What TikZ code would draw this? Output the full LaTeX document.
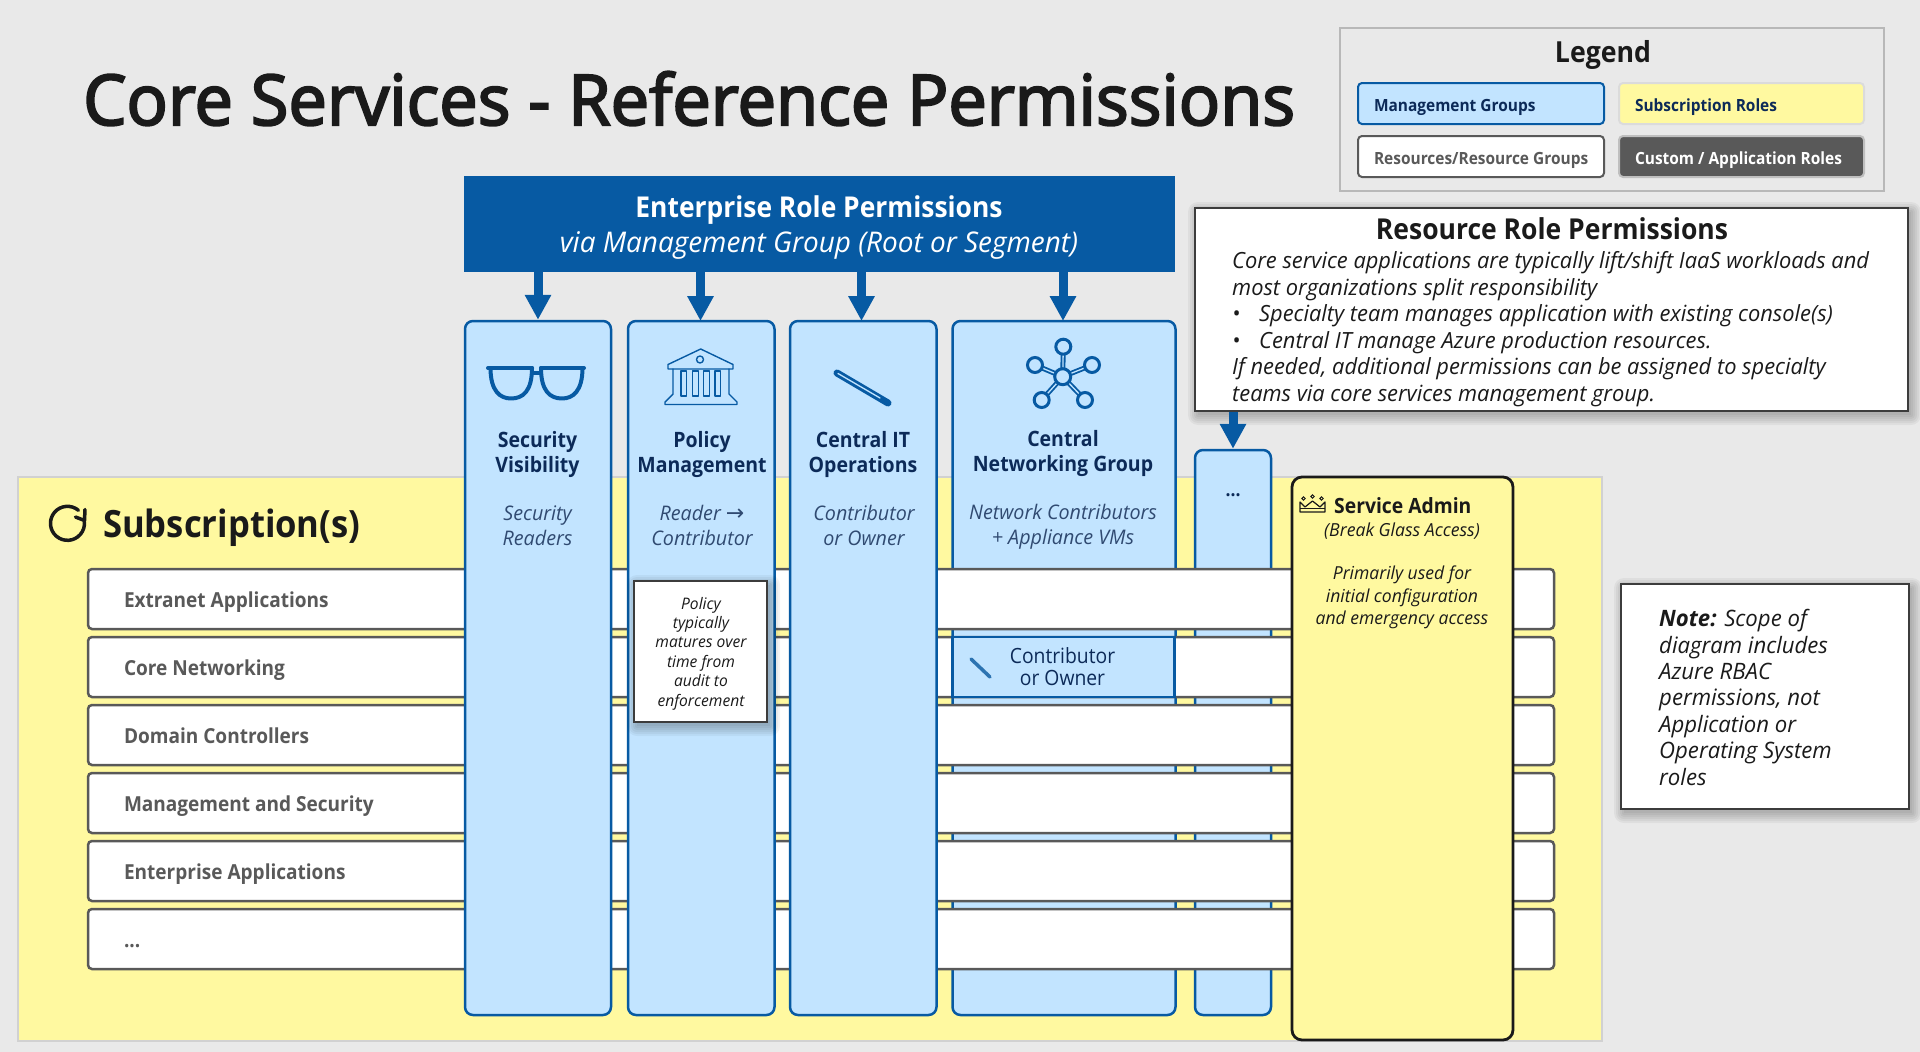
\documentclass[tikz,border=0pt]{standalone}
\usepackage{fontspec}
\setmainfont[UprightFeatures={FakeStretch=0.92},BoldFeatures={FakeStretch=0.92},ItalicFeatures={FakeStretch=0.98},BoldItalicFeatures={FakeStretch=0.98}]{Open Sans}
\newfontfamily\semi[FakeStretch=0.98,FakeBold=3]{Open Sans}
\newfontfamily\dv{DejaVu Sans}
\usetikzlibrary{arrows.meta,calc}
\definecolor{bgc}{HTML}{E9E9E9}
\definecolor{ylw}{HTML}{FFF9A0}
\definecolor{ltb}{HTML}{C2E4FF}
\definecolor{azb}{HTML}{075AA3}
\definecolor{navy}{HTML}{0C2A58}
\definecolor{ink}{HTML}{1A1A1A}
\definecolor{rowc}{HTML}{595959}
\newcommand\threedots{...}
\tikzset{
 x=1pt,y=-1pt,
 colbox/.style={draw=azb,fill=ltb,line width=2.5pt,rounded corners=8pt},
 rowbox/.style={draw=rowc,fill=white,line width=2.5pt,rounded corners=4pt,text height=19pt,text depth=1.6pt},
 paper/.style={draw=ink!85,fill=white,line width=2.5pt},
 admin/.style={draw=ink,fill=ylw,line width=2.8pt,rounded corners=10pt},
 leg/.style={rounded corners=4pt,line width=2pt,text height=16pt,text depth=1pt,font=\bfseries\fontsize{16.8}{17}\selectfont},
 feed/.style={draw=azb,line width=9pt,-{Triangle[length=25pt,width=25pt]},shorten >=0pt},
 ico/.style={draw=azb,line cap=round,line join=round},
 ttl/.style={font=\bfseries\fontsize{21.2}{25}\selectfont,text=navy,align=center,inner sep=0pt},
 rol/.style={font=\itshape\fontsize{20.1}{25}\selectfont,text=navy!85!white,align=center,inner sep=0pt},
}
\newcommand\bx[7][]{%
  \pgfmathsetlengthmacro\bw{#5-#3}\pgfmathsetlengthmacro\bh{#6-#4}%
  \node[#1,inner sep=0pt,minimum width=\bw,minimum height=\bh] (#2) at ({(#3+#5)/2},{(#4+#6)/2}) {#7};}
\newcommand\lx[8][]{%
  \pgfmathsetlengthmacro\bw{#5-#3}\pgfmathsetlengthmacro\bh{#6-#4}%
  \node[#1,inner sep=0pt,minimum width=\bw,minimum height=\bh] (#2) at ({(#3+#5)/2},{(#4+#6)/2}) {\makebox[\bw][l]{\hspace{#7pt}#8}};}
\newcommand\softshadow[4]{%
  \foreach \s in {10,8,6,4,2,0}{\fill[black,opacity=.045,rounded corners=\s pt] ({#1-\s+3},{#2-\s+4}) rectangle ({#3+\s+3},{#4+\s+4});}}
\begin{document}
\begin{tikzpicture}
\fill[bgc] (0,0) rectangle (1920,1052);
\useasboundingbox (0,0) rectangle (1920,1052);
% title
\node[anchor=base west,inner sep=0pt,font=\semi\fontsize{70}{70}\selectfont,text=ink] (title) at (83,125) {Core Services - Reference Permissions};
% subscription area
\bx[draw=black!18,fill=ylw,line width=2.5pt]{subs}{18}{477}{1602}{1041}{}
\node[anchor=base west,inner sep=0pt,font=\bfseries\fontsize{37.6}{38}\selectfont,text=ink] (substitle) at (103,537) {Subscription(s)};
\draw[ink,line width=3.5pt,line cap=round,line join=round] (78.4,510.3) arc[start angle=-50,end angle=-365,radius=17];
\draw[ink,line width=3.5pt,line cap=round,line join=round] (75.5,517) -- (84.5,520.5) -- (85,509.5);
% back columns
\bx[colbox]{colD}{952.5}{321}{1175.5}{1015}{}
\bx[colbox]{colE}{1195}{450}{1271}{1015}{}
% rows
\foreach \nm/\ty/\lab in {r1/569/Extranet Applications,r2/637/Core Networking,r3/705/Domain Controllers,r4/773/Management and Security,r5/841/Enterprise Applications,r6/909/\threedots}{
  \lx[rowbox,font=\bfseries\fontsize{20.7}{21}\selectfont,text=rowc]{\nm}{88}{\ty}{1554}{\ty+60}{36}{\lab}
}
% contributor in Core Networking row
\bx[draw=azb,fill=ltb,line width=2.5pt]{cbox}{952.5}{637}{1174.5}{697}{}
\node[font=\fontsize{21}{22}\selectfont,text=navy,align=center,inner sep=0pt] (cown) at (1062.5,667) {Contributor\\or Owner};
\draw[draw=azb!85!white,line width=3.5pt,line cap=round] (971,659) -- (990,677);
% front columns
\bx[colbox]{colA}{465}{321}{611}{1015}{}
\bx[colbox]{colB}{628}{321}{774.5}{1015}{}
\bx[colbox]{colC}{790}{321}{936.5}{1015}{}
% admin
\bx[admin]{adm}{1292}{477}{1513}{1040}{}
% policy note
\softshadow{634}{581}{767}{722}
\bx[paper]{pol}{634}{581}{767}{722}{}
\node[font=\itshape\fontsize{15.9}{19.4}\selectfont,text=ink,align=center,inner sep=0pt] (polt) at (701,653.5) {Policy\\typically\\matures over\\time from\\audit to\\enforcement};
% banner
\bx[fill=azb]{ban}{464}{176}{1175}{272}{}
\node[font=\bfseries\fontsize{28.7}{35}\selectfont,text=white,inner sep=0pt,anchor=base] (bant1) at (819,217.5) {Enterprise Role Permissions};
\node[font=\itshape\fontsize{28.5}{35}\selectfont,text=white,inner sep=0pt,anchor=base] (bant2) at (819,252.5) {via Management Group (Root or Segment)};
% legend
\bx[draw=black!28,line width=1.5pt]{legbox}{1340}{28}{1884}{191}{}
\node[font=\bfseries\fontsize{29}{29}\selectfont,text=ink,inner sep=0pt] (legt) at (1603,55) {Legend};
\lx[leg,draw=azb,fill=ltb,text=navy]{l1}{1358}{83}{1604}{124}{16}{Management Groups}
\lx[leg,draw=black!14,fill=ylw,text=navy]{l2}{1619}{83}{1864}{124}{16}{Subscription Roles}
\lx[leg,draw=rowc,fill=white,text=rowc]{l3}{1358}{136}{1604}{177}{16}{Resources/Resource Groups}
\lx[leg,draw=black!25,fill=rowc,text=white]{l4}{1619}{136}{1864}{177}{16}{Custom / Application Roles}
% resource role box
\softshadow{1195}{208}{1908}{411}
\bx[paper]{res}{1195}{208}{1908}{411}{}
\node[font=\bfseries\fontsize{28.8}{29}\selectfont,text=ink,inner sep=0pt] (rest) at (1552,229) {Resource Role Permissions};
\node[anchor=base west,font=\itshape\fontsize{22.3}{26.5}\selectfont,text=ink,inner sep=0pt,align=left] (resb) at (1232,401) {Core service applications are typically lift/shift IaaS workloads and\\most organizations split responsibility\\\makebox[27pt][l]{\textbullet}Specialty team manages application with existing console(s)\\\makebox[27pt][l]{\textbullet}Central IT manage Azure production resources.\\If needed, additional permissions can be assigned to specialty\\teams via core services management group.};
% note box
\softshadow{1621}{584}{1909}{809}
\bx[paper]{note}{1621}{584}{1909}{809}{}
\node[anchor=base west,font=\itshape\fontsize{22.6}{26.4}\selectfont,text=ink,inner sep=0pt,align=left] (notet) at (1659,785) {\textbf{Note:} Scope of\\diagram includes\\Azure RBAC\\permissions, not\\Application or\\Operating System\\roles};
% feeds
\draw[feed] (ban.south -| colA.north) -- ([xshift=0pt]colA.north);
\coordinate (tB) at (700.5,321);
\coordinate (tC) at (861.5,321);
\coordinate (tD) at (1063,321);
\draw[feed] (ban.south -| tB) -- (tB);
\draw[feed] (ban.south -| tC) -- (tC);
\draw[feed] (ban.south -| tD) -- (tD);
\draw[feed] (res.south -| colE.north) -- (colE.north);
% column titles
\node[ttl] (a1) at (537.5,454.5) {Security\\Visibility};
\node[rol] (a2) at (537.5,525.5) {Security\\Readers};
\node[ttl] (b1) at (702,454.5) {Policy\\Management};
\node[rol] (b2) at (702,525) {Reader {\dv\upshape\fontsize{22}{22}\selectfont\char"2192}\\Contributor};
\node[ttl] (c1) at (863,454.5) {Central IT\\Operations};
\node[rol] (c2) at (864,525) {Contributor\\or Owner};
\node[ttl] (d1) at (1063,453.5) {Central\\Networking Group};
\node[rol] (d2) at (1063,527) {Network Contributors\\+ Appliance VMs};
\node[font=\bfseries\fontsize{19}{19}\selectfont,text=navy,inner sep=0pt] (e1) at (1233,495) {...};
% admin texts
\node[anchor=base west,font=\bfseries\fontsize{21}{21}\selectfont,text=ink,inner sep=0pt] (admt) at (1334,513) {Service Admin};
\node[font=\itshape\fontsize{18}{18}\selectfont,text=ink,inner sep=0pt] (admb) at (1402,531) {(Break Glass Access)};
\node[font=\itshape\fontsize{17.9}{22.5}\selectfont,text=ink,align=center,inner sep=0pt] (admc) at (1402,597.5) {Primarily used for\\initial configuration\\and emergency access};
% crown icon
\draw[ink,line width=1.2pt,line join=round] (1300,512) -- (1325,512) -- (1325,502) -- (1320,507) -- (1312.5,501) -- (1305,507) -- (1300,502) -- cycle;
\draw[ink,line width=1.2pt] (1300,508.5) -- (1325,508.5);
\draw[ink,line width=1pt] (1303.5,498.5) circle[radius=1.7] (1312.5,496.5) circle[radius=1.7] (1321.5,498.5) circle[radius=1.7];
% glasses icon
\begin{scope}[ico,line width=4pt]
\draw (488,368) -- (532,368) (541,368) -- (584,368) (532,373) -- (541,373);
\draw (490.5,368) .. controls (490.5,391) and (500,398.5) .. (511,398.5) .. controls (523,398.5) and (532,391) .. (532,368);
\draw (541,368) .. controls (541,391) and (550,398.5) .. (562,398.5) .. controls (573,398.5) and (582.5,391) .. (582.5,368);
\end{scope}
% bank icon
\begin{scope}[ico,line width=1.4pt]
\draw (700.7,349) -- (733,364.5) -- (733,369) -- (668,369) -- (668,364.5) -- cycle;
\draw (700,359.5) circle[radius=3.5];
\foreach \xa/\xb in {681/686.5,692.5/698.5,703.5/709.5,715/720.5}{\draw (\xa,371) rectangle (\xb,396);}
\draw (673,369) -- (673,394) -- (665,402) -- (665,404.5) -- (737,404.5) -- (737,402) -- (729,394) -- (729,369);
\end{scope}
% pencil icon
\draw[ico,line width=7pt] (837,373) -- (888,403);
\draw[draw=ltb,line width=1.3pt,line cap=round] (838,373.5) -- (880,398);
% network icon
\begin{scope}
\foreach \px/\py in {1063.3/346.7,1035/365,1092/365,1041.7/400,1085/400}{
 \draw[azb,line width=5pt] (1062.7,376.7) -- (\px,\py);
 \draw[ltb,line width=1.3pt] (1062.7,376.7) -- (\px,\py);
}
\foreach \px/\py in {1063.3/346.7,1035/365,1092/365,1041.7/400,1085/400}{
 \draw[azb,fill=ltb,line width=3pt] (\px,\py) circle[radius=7.5];
}
\draw[azb,fill=ltb,line width=3pt] (1062.7,376.7) circle[radius=8];
\end{scope}
\end{tikzpicture}
\end{document}
